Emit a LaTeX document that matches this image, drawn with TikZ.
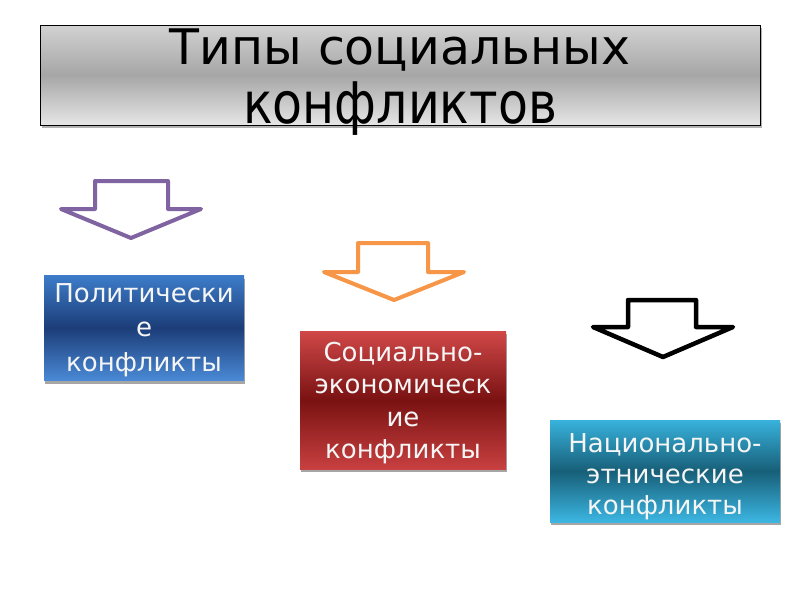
\documentclass[tikz,border=0pt]{standalone}
\usepackage{fontspec}
\setmainfont{DejaVu Sans}
\usetikzlibrary{shadows}
\definecolor{arrpurple}{HTML}{8064A2}
\definecolor{arrorange}{HTML}{F79646}
\definecolor{bluetop}{HTML}{3D7CC9}
\definecolor{bluemid}{HTML}{1C3D78}
\definecolor{bluebot}{HTML}{4A8AD6}
\definecolor{redtop}{HTML}{D04848}
\definecolor{redmid}{HTML}{7A1212}
\definecolor{redbot}{HTML}{C84040}
\definecolor{tealtop}{HTML}{38B2DC}
\definecolor{tealmid}{HTML}{175F78}
\definecolor{tealbot}{HTML}{3CB6E2}
\definecolor{greytop}{HTML}{D2D2D2}
\definecolor{greymid}{HTML}{A6A6A6}
\definecolor{greybot}{HTML}{E6E6E6}
\begin{document}
\begin{tikzpicture}[x=1pt,y=-1pt,
  catbox/.style={inner sep=0pt,
    general shadow={fill=gray!70, shadow xshift=1pt, shadow yshift=-3pt}},
  boxtext/.style={inner sep=0pt, align=center, text=white!96!black},
  blockarrow/.style={line width=4pt, line join=round, fill=white},
  titletext/.style={anchor=base, inner sep=0pt, font=\fontsize{49}{55}\selectfont, text=black}]
\fill[white] (0,0) rectangle (800,600);
\useasboundingbox (0,0) rectangle (800,600);
% title
\node[draw=black, line width=1pt, minimum width=720pt, minimum height=100pt,
  top color=greytop, bottom color=greybot, middle color=greymid,
  general shadow={fill=gray!60, shadow xshift=2pt, shadow yshift=-3pt}]
  (titlebox) at (400,75) {};
\node[titletext] (t1) at (400,64) {Типы социальных};
\node[titletext] (t2) at (400,123) {\scalebox{1}[1.17]{конфликтов}};
% arrows
\draw[blockarrow, draw=arrpurple] (95,181) -- (168,181) -- (168,209) -- (201,209)
  -- (131,238) -- (61,209) -- (95,209) -- cycle;
\draw[blockarrow, draw=arrorange] (358,243) -- (428,243) -- (428,272) -- (464,272)
  -- (394,300) -- (324,272) -- (358,272) -- cycle;
\draw[blockarrow, draw=black, line width=4.5pt] (628,300) -- (696,300) -- (696,327) -- (733,327)
  -- (663,357) -- (593,327) -- (628,327) -- cycle;
% boxes
\node[catbox, minimum width=200pt, minimum height=105pt,
  top color=bluetop, bottom color=bluebot, middle color=bluemid]
  (pol) at (144,328) {};
\node[boxtext, font=\fontsize{26}{34.5}\selectfont] (poltext) at (144,330)
  {Политически\\е\\конфликты};
\node[catbox, minimum width=206pt, minimum height=138pt,
  top color=redtop, bottom color=redbot, middle color=redmid]
  (soc) at (403,400) {};
\node[boxtext, font=\fontsize{26}{32.5}\selectfont] (soctext) at (403,403)
  {Социально-\\экономическ\\ие\\конфликты};
\node[catbox, minimum width=230pt, minimum height=102pt,
  top color=tealtop, bottom color=tealbot, middle color=tealmid]
  (nat) at (665,471) {};
\node[boxtext, font=\fontsize{26}{31}\selectfont] (nattext) at (665,477)
  {Национально-\\этнические\\конфликты};
\end{tikzpicture}
\end{document}
